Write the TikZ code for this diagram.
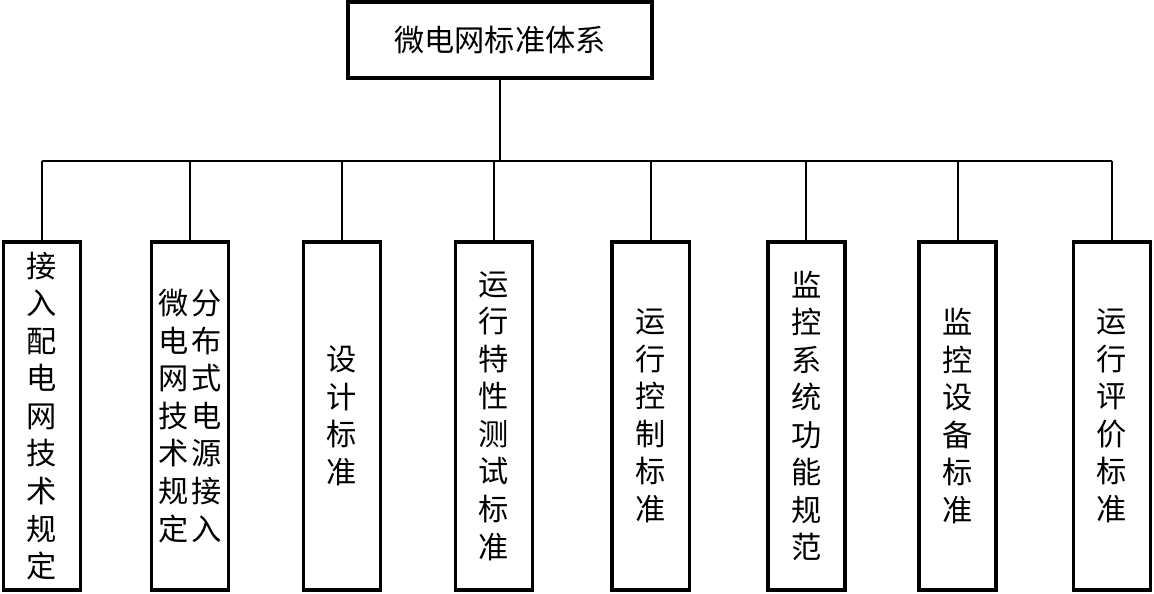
\documentclass[tikz,border=0pt]{standalone}
\usepackage{fontspec}
\setmainfont{Noto Sans CJK SC}
\usepackage{xcolor}
\definecolor{stdLine}{HTML}{000000}
\usetikzlibrary{positioning}
\tikzset{
    topbox/.style={
        draw=stdLine,
        rectangle,
        line width=2.6pt,
        minimum width=7.6cm,
        minimum height=1.9cm,
        inner sep=0pt,
        font=\fontsize{21.5}{26}\selectfont
    },
    stdbox/.style={
        draw=stdLine,
        rectangle,
        line width=2.6pt,
        minimum width=1.93cm,
        minimum height=8.7cm,
        align=center,
        inner sep=0pt,
        font=\fontsize{21.5}{26.7}\selectfont
    },
    link/.style={
        line width=1.3pt,
        color=stdLine
    }
}

\begin{document}
\begin{tikzpicture}
    \useasboundingbox (0,0) rectangle (28.85,14.85);

    % root of the standard system
    \node[topbox] (root) at (12.5,13.85) {微电网标准体系};

    % the eight groups of standards
    \node[stdbox] (access) at (1.05,4.45) {接\\入\\配\\电\\网\\技\\术\\规\\定};
    \node[stdbox] (der) at (4.75,4.45) {微\hspace{2pt}分\\电\hspace{2pt}布\\网\hspace{2pt}式\\技\hspace{2pt}电\\术\hspace{2pt}源\\规\hspace{2pt}接\\定\hspace{2pt}入};
    \node[stdbox] (design) at (8.55,4.45) {设\\计\\标\\准};
    \node[stdbox] (test) at (12.35,4.45) {运\\行\\特\\性\\测\\试\\标\\准};
    \node[stdbox] (control) at (16.27,4.45) {运\\行\\控\\制\\标\\准};
    \node[stdbox] (monsys) at (20.16,4.45) {监\\控\\系\\统\\功\\能\\规\\范};
    \node[stdbox] (mondev) at (23.94,4.45) {监\\控\\设\\备\\标\\准};
    \node[stdbox] (assess) at (27.8,4.45) {运\\行\\评\\价\\标\\准};

    % bus line and drops
    \coordinate (bus) at (0,10.83);
    \draw[link] (root.south) -- (root.south |- bus);
    \draw[link] (access.north |- bus) -- (assess.north |- bus);
    \foreach \n in {access,der,design,test,control,monsys,mondev,assess}
        \draw[link] (\n.north |- bus) -- (\n.north);
\end{tikzpicture}
\end{document}
